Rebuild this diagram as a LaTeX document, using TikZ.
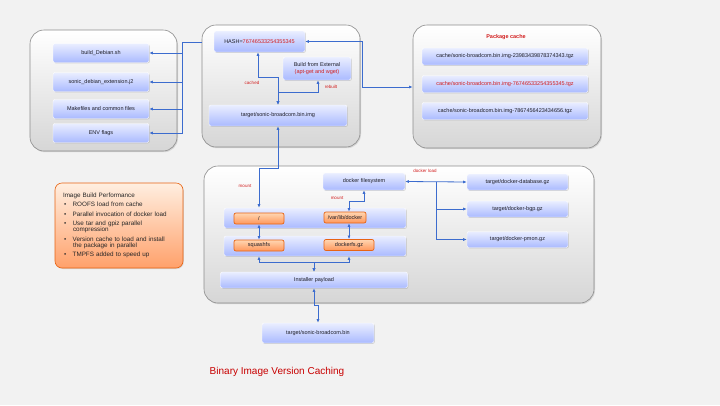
\documentclass[tikz,border=0pt]{standalone}
\usepackage{fontspec}
\setmainfont{Liberation Sans}
\usetikzlibrary{positioning,shadows,arrows.meta}

\definecolor{bluetop}{RGB}{234,238,255}
\definecolor{bluebot}{RGB}{170,186,255}
\definecolor{grpbot}{RGB}{214,214,214}
\definecolor{grpline}{RGB}{140,140,140}
\definecolor{orgtop}{RGB}{255,214,178}
\definecolor{orgbot}{RGB}{255,150,90}
\definecolor{orgline}{RGB}{232,100,20}
\definecolor{linkblue}{RGB}{60,108,206}
\definecolor{notered}{RGB}{210,30,30}
\definecolor{titlered}{RGB}{200,0,0}
\definecolor{textdark}{RGB}{30,30,40}

\begin{document}
\begin{tikzpicture}[x=1pt,y=-1pt,>={Latex[length=3.6pt,width=3pt]},
    group/.style={draw=grpline, line width=0.6pt, rounded corners=14pt, top color=white, bottom color=grpbot,
        drop shadow={shadow xshift=1pt, shadow yshift=-1.2pt, opacity=0.25}},
    item/.style={draw=white, line width=0.4pt, rounded corners=2pt, top color=bluetop, bottom color=bluebot,
        text=textdark, font=\fontsize{5.5}{6.5}\selectfont, inner sep=1pt,
        drop shadow={shadow xshift=0.8pt, shadow yshift=-0.8pt, opacity=0.3}},
    mnt/.style={draw=orgline, line width=0.7pt, rounded corners=2pt, top color=orgtop, bottom color=orgbot,
        text=textdark, font=\fontsize{5.5}{6.5}\selectfont, inner sep=1pt, minimum height=11pt},
    perfbox/.style={draw=orgline, line width=0.6pt, rounded corners=7pt, top color=orgtop!40, bottom color=orgbot!90,
        text=black!85, font=\fontsize{6.3}{6.3}\selectfont, align=left, text width=112pt,
        drop shadow={shadow xshift=0.8pt, shadow yshift=-1pt, opacity=0.25}},
    link/.style={<->, draw=linkblue, line width=0.8pt},
    flow/.style={->, draw=linkblue, line width=0.8pt},
    note/.style={text=notered, font=\fontsize{4.5}{5}\selectfont}]

    % slide background
    \useasboundingbox (0,0) rectangle (720,405);
    \fill[black!5] (0,0) rectangle (720,405);

    % Define groups
    \node[group, minimum width=147pt, minimum height=121pt] (srcgrp) at (103.5,90.5) {};
    \node[group, minimum width=158pt, minimum height=122pt] (hashgrp) at (281,86) {};
    \node[group, minimum width=188pt, minimum height=123pt] (pkggrp) at (507,86.5) {};
    \node[group, minimum width=390pt, minimum height=137pt] (instgrp) at (399,234.5) {};

    % build inputs
    \node[item, minimum width=96pt, minimum height=19pt] (debsh) at (101,53) {build\_Debian.sh};
    \node[item, minimum width=96pt, minimum height=19pt] (debj2) at (101,82) {sonic\_debian\_extension.j2};
    \node[item, minimum width=96pt, minimum height=19pt] (mkfiles) at (101,109) {Makefiles and common files};
    \node[item, minimum width=96pt, minimum height=19pt] (envflags) at (101,133) {ENV flags};

    % hash and image
    \node[item, minimum width=91pt, minimum height=21pt] (hash) at (259.5,41.5) {HASH=\textcolor{notered}{76746533254355345}};
    \node[item, minimum width=68pt, minimum height=23pt, align=center] (extbuild) at (317,68.5)
        {Build from External\\\textcolor{notered}{(apt-get and wget)}};
    \node[item, minimum width=138pt, minimum height=21pt] (img) at (278,115.5) {target/sonic-broadcom.bin.img};

    % package cache
    \node[text=notered, font=\bfseries\fontsize{5.5}{6}\selectfont] (pkgtitle) at (506,37) {Package cache};
    \node[item, minimum width=166pt, minimum height=17pt] (pkg1) at (505,56.5) {cache/sonic-broadcom.bin.img-23983439878374343.tgz};
    \node[item, minimum width=166pt, minimum height=17pt, text=notered] (pkg2) at (505,84) {cache/sonic-broadcom.bin.img-76746533254355345.tgz};
    \node[item, minimum width=166pt, minimum height=17pt] (pkg3) at (505,111) {cache/sonic-broadcom.bin.img-7867456423434656.tgz};

    % installer
    \node[item, minimum width=82pt, minimum height=17pt] (dockfs) at (364,181.5) {docker filesystem};
    \node[item, minimum width=182pt, minimum height=20pt] (row1) at (315,218) {};
    \node[item, minimum width=182pt, minimum height=20pt] (row2) at (315,246) {};
    \node[mnt, minimum width=50pt] (root) at (259,218.5) {/};
    \node[mnt, minimum width=42pt] (varlib) at (345,217.5) {/var/lib/docker};
    \node[mnt, minimum width=50pt] (sqfs) at (259,245.5) {squashfs};
    \node[mnt, minimum width=50pt] (dockgz) at (349,245) {dockerfs.gz};
    \node[item, minimum width=187pt, minimum height=16pt] (installer) at (314,280) {Installer payload};
    \node[item, minimum width=112pt, minimum height=20pt] (bin) at (318,333) {target/sonic-broadcom.bin};

    % docker images
    \node[item, minimum width=101pt, minimum height=16pt] (dbimg) at (517.5,182) {target/docker-database.gz};
    \node[item, minimum width=101pt, minimum height=16pt] (bgpimg) at (517.5,209) {target/docker-bgp.gz};
    \node[item, minimum width=101pt, minimum height=16pt] (pmonimg) at (517.5,239.5) {target/docker-pmon.gz};

    % performance notes
    \node[perfbox, minimum width=128pt, minimum height=85pt] (perf) at (119,225.5)
        {Image Build Performance\\[3pt]
         \hspace{1pt}\textbullet\hspace{6.5pt}ROOFS load from cache\\[3pt]
         \hspace{1pt}\textbullet\hspace{6.5pt}Parallel invocation of docker load\\[3pt]
         \hspace{1pt}\textbullet\hspace{6.5pt}Use tar and gpiz parallel\\
         \hspace{10pt}compression\\[3pt]
         \hspace{1pt}\textbullet\hspace{6.5pt}Version cache to load and install\\
         \hspace{10pt}the package in parallel\\[3pt]
         \hspace{1pt}\textbullet\hspace{6.5pt}TMPFS added to speed up};

    % Connections
    \coordinate (hashin) at (202,42);
    \coordinate (srcbus) at (182,42);
    \draw[flow] (hashin) -- (srcbus) |- (debsh.east);
    \draw[flow] (srcbus) |- (debj2.east);
    \draw[flow] (srcbus) |- (mkfiles.east);
    \draw[flow] (srcbus) |- (envflags.east);

    \draw[link] (hash.east) -- (362,41.5) |- (pkggrp.west |- 0,87);
    \draw[link] (img.north) -- (img.north |- 0,77) -| ([xshift=-1.5pt]hash.south);
    \draw[link] (img.north) -- (img.north |- 0,92) -| ([xshift=1pt]extbuild.south);
    \node[note] at (252,83) {cached};
    \node[note] at (331,87) {rebuilt};

    \draw[link] (img.south) -- (img.south |- 0,168) -| (root.north |- row1.north);
    \node[note] at (245,186) {mount};
    \draw[link] (root.south) -- (sqfs.north);
    \draw[link] (dockgz.north |- varlib.south) -- (dockgz.north);
    \draw[link] (dockgz.north |- varlib.north) -- (dockgz.north |- 0,201) -| (dockfs.south);
    \node[note] at (337,198) {mount};
    \draw[link] (sqfs.south |- row2.south) -- (sqfs.south |- 0,262) -| (installer.north);
    \draw[link] (dockgz.south |- row2.south) -- (dockgz.south |- 0,262) -| (installer.north);
    \draw[link] (installer.south) -- (installer.south |- 0,305) -| (bin.north);

    \coordinate (dockbus) at (436,181.5);
    \draw[link] (dockfs.east) -- (dbimg.west);
    \draw[flow] (dockbus) |- (bgpimg.west);
    \draw[flow] (dockbus) |- (pmonimg.west);
    \node[note] at (425,171) {docker load};

    % title
    \node[text=titlered, font=\fontsize{10}{12}\selectfont] (title) at (277,372) {Binary Image Version Caching};

\end{tikzpicture}
\end{document}
